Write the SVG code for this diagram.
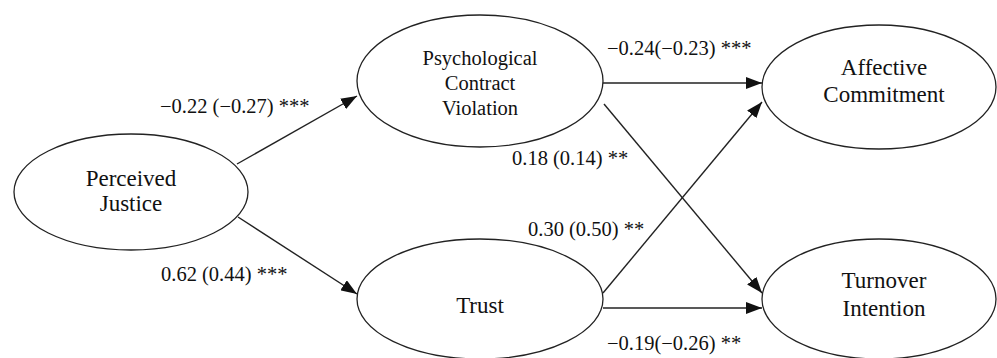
<svg xmlns="http://www.w3.org/2000/svg" width="997" height="358" viewBox="0 0 997 358" font-family="Liberation Serif, DejaVu Serif, serif">
<style>
.n{fill:#fff;stroke:#222;stroke-width:1.3}
.t{fill:#111;text-anchor:middle}
.big{font-size:23px}
.mid{font-size:20.5px}
.lab{fill:#111;font-size:20.5px}
.c{stroke:#222;stroke-width:1.4;fill:none;marker-end:url(#ah)}
</style>
<defs>
<marker id="ah" viewBox="0 0 16 12" refX="16" refY="6" markerWidth="16" markerHeight="12" markerUnits="userSpaceOnUse" orient="auto">
<path d="M0,0 L16,6 L0,12 Z" fill="#111"/>
</marker>
</defs>
<rect width="997" height="358" fill="#fff"/>
<g id="connectors">
<line class="c" x1="237" y1="164" x2="357" y2="96"/>
<line class="c" x1="238" y1="217" x2="357" y2="294"/>
<line class="c" x1="603" y1="83" x2="762" y2="83"/>
<line class="c" x1="604" y1="104" x2="762" y2="293"/>
<line class="c" x1="603" y1="293" x2="762" y2="102"/>
<line class="c" x1="603" y1="308" x2="762" y2="308"/>
<text class="lab" font-family="Liberation Serif" x="160" y="113">−0.22 (−0.27) ***</text>
<text class="lab" x="607" y="55">−0.24(−0.23) ***</text>
<text class="lab" x="512" y="165">0.18 (0.14) **</text>
<text class="lab" x="161" y="281">0.62 (0.44) ***</text>
<text class="lab" x="528" y="236">0.30 (0.50) **</text>
<text class="lab" x="607" y="350">−0.19(−0.26) **</text>
</g>
<g id="perceived-justice">
<ellipse class="n" cx="131" cy="192" rx="117" ry="58"/>
<text class="t big" x="131" y="186">Perceived</text>
<text class="t big" x="131" y="211">Justice</text>
</g>
<g id="pcv">
<ellipse class="n" cx="480" cy="81" rx="123" ry="66"/>
<text class="t mid" x="480" y="65">Psychological</text>
<text class="t mid" x="480" y="90">Contract</text>
<text class="t mid" x="480" y="115">Violation</text>
</g>
<g id="affective-commitment">
<ellipse class="n" cx="879" cy="87" rx="117" ry="62"/>
<text class="t big" x="884" y="75">Affective</text>
<text class="t big" x="884" y="102">Commitment</text>
</g>
<g id="trust">
<ellipse class="n" cx="480" cy="299" rx="123" ry="60"/>
<text class="t big" x="480" y="313">Trust</text>
</g>
<g id="turnover-intention">
<ellipse class="n" cx="879" cy="299" rx="117" ry="60"/>
<text class="t big" x="884" y="288">Turnover</text>
<text class="t big" x="884" y="316">Intention</text>
</g>
</svg>
